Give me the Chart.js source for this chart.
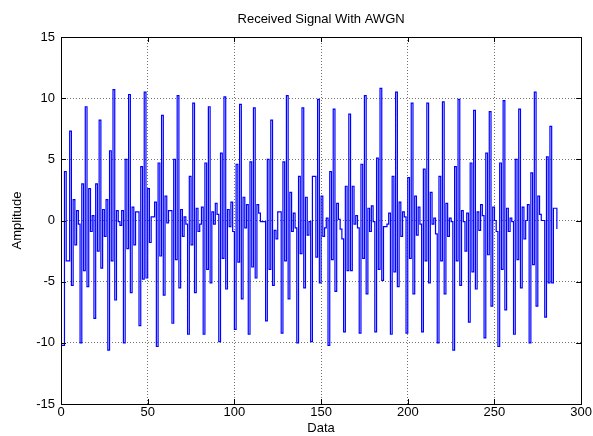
<!DOCTYPE html>
<html>
<head>
<meta charset="utf-8">
<title>Received Signal With AWGN</title>
<script src="https://cdn.jsdelivr.net/npm/chart.js@4.4.1/dist/chart.umd.min.js"></script>
<style>
  html, body { margin: 0; padding: 0; background: #fff; }
  #wrap { width: 593px; height: 436px; }
</style>
</head>
<body>
<div id="wrap"><canvas id="signalChart" width="593" height="436"></canvas></div>
<script>
// received samples, one per data index
const amplitude = [
  -10.2, -10.2, 4.0, -3.3, -3.3, 7.3, -5.3, 1.7, -2.0, 0.8, -0.3, -10.0, 3.0, -4.1, 9.3, -5.4, 2.6, -0.9, 0.4, -8.0,
  3.0, -2.5, 8.2, -3.9, 0.9, -1.3, 1.7, -10.6, 5.7, -3.3, 10.7, -6.5, 0.8, -0.1, -0.4, 0.8, -10.0,
  5.0, -2.3, 10.3, -5.9, 1.1, -2.0, 0.7, 0.7, -8.6, 4.4, -4.8, 10.5, -4.7, 2.6, -1.8, 0.3, 0.3, 1.5, -10.3, 4.7,
  -2.9, 8.6, -6.1, 2.0, -0.2, 0.8, 0.8, -8.4, 5.0, -3.2, 10.2, -5.5, 0.9, -1.3, 0.3, -0.3, -9.3, 3.6, -2.0,
  9.6,
  -5.9, 1.0, -0.9, -0.3, 1.1, -9.3, 4.7, -4.0, 9.3, -5.1, 0.7, -0.3, 1.4, 0.5, -9.9, 5.5, -3.1, 10.1, -5.6, 0.9,
  -0.5, 1.5, -0.9, -8.9, 4.6, -3.4, 9.5, -6.4, 1.9, -0.6, 1.3, -9.3, 4.8, -3.8, 9.2, -4.7, 1.3,
  0.6, -0.1, -0.1, -0.1, -8.2, 5.0, -4.0, 8.2, -5.3, -0.8, -1.5, 0.7, 0.7, -9.2, 4.8, -3.3, 10.2, -6.4, 2.3, -0.9,
  0.6, -0.6, -10.0, 3.6, -2.7, 9.2, -5.5, 1.9, -1.2, -0.1, -9.9, 3.6, 3.6, -3.0, 9.9, -5.1, 2.0, -1.3,
  -0.6, 0.2, -10.2, 4.0, -3.2, 9.1, -5.8, 1.4, 0.1, -0.7, -1.5, -9.1, 2.8, -4.1, 8.7, -4.1, 2.8, -0.3, 0.4, -0.6,
  -9.2, 4.6, -3.1, 10.2, -6.0, 1.0, -0.9, 1.2, -0.1, -9.1, 5.1, -4.0, 10.8, -4.9, -0.5, -0.5, -0.3, 0.6,
  -9.3, 3.6, -4.2, 10.5, -5.4, 1.5, -1.3, 0.7, 0.3, -9.2, 3.5, -3.1, 9.6, -6.0, 2.0, -1.2, 1.1, -0.3, -9.1, 4.2,
  -3.3, 9.6, -5.1, 2.3, -0.3, 0.2, -1.1, -10.0, 3.6, -3.3, 9.7, -6.0, 1.4, -1.3, 0.2, -0.1, -10.6, 4.4, -3.3,
  9.9, -5.3, 0.8, -0.1, -2.5, 0.6, -8.3, 4.7, -4.2, 9.0, -5.6, 0.7, -0.8, 1.3, 0.4, -9.6, 5.5, -2.8, 8.9, -7.0,
  1.1, 0.0, -0.9, -10.3, 4.7, -4.0, 9.8, -7.3, 1.0, -0.9, 0.2, -0.1, -9.3, 5.0, -3.2, 9.1,
  -5.5, 1.1, -1.5, 0.0, 1.3, -10.0, 3.9, -3.6, 10.5, -7.0, 2.0, 0.5, 0.0, 0.0, -7.9, 5.2, -5.1, 7.7, -5.1, 1.0,
  1.0, -0.7
];
const xTicks = [0, 50, 100, 150, 200, 250, 300];
const yTicks = [-15, -10, -5, 0, 5, 10, 15];

const points = amplitude.map((v, i) => ({ x: i, y: v }));
const font = { family: "'Liberation Sans', Arial, sans-serif", size: 13 };

// box round the axes plus short inward ticks, like matlab
const framePlugin = {
  id: 'frame',
  afterDatasetsDraw(chart) {
    const { ctx, chartArea: a, scales } = chart;
    ctx.save();
    ctx.strokeStyle = '#000';
    ctx.lineWidth = 1;
    ctx.beginPath();
    xTicks.forEach(t => {
      const px = Math.round(scales.x.getPixelForValue(t)) + 0.5;
      ctx.moveTo(px, a.bottom); ctx.lineTo(px, a.bottom - 5);
      ctx.moveTo(px, a.top); ctx.lineTo(px, a.top + 5);
    });
    yTicks.forEach(t => {
      const py = Math.round(scales.y.getPixelForValue(t)) + 0.5;
      ctx.moveTo(a.left, py); ctx.lineTo(a.left + 5, py);
      ctx.moveTo(a.right, py); ctx.lineTo(a.right - 5, py);
    });
    ctx.stroke();
    ctx.strokeRect(Math.round(a.left) + 0.5, Math.round(a.top) + 0.5,
      Math.round(a.right - a.left), Math.round(a.bottom - a.top));
    ctx.restore();
  }
};

new Chart(document.getElementById('signalChart'), {
  type: 'line',
  data: {
    datasets: [{
      data: points,
      borderColor: '#0000ff',
      borderWidth: 1.2,
      pointRadius: 0,
      stepped: 'before',
      fill: false
    }]
  },
  options: {
    responsive: false,
    animation: false,
    devicePixelRatio: 1,
    layout: { padding: { left: 0, right: 10, top: 0, bottom: 0 } },
    plugins: {
      legend: { display: false },
      tooltip: { enabled: false },
      title: {
        display: true,
        fullSize: false,
        text: 'Received Signal With AWGN',
        color: '#000',
        font: { ...font, weight: 'normal' },
        padding: { top: 12, bottom: 9.4 }
      }
    },
    scales: {
      x: {
        type: 'linear',
        min: 0, max: 300,
        afterBuildTicks: s => { s.ticks = xTicks.map(v => ({ value: v })); },
        afterFit: s => { s.height = 32; },
        grid: { color: 'rgba(0,0,0,0.55)', drawTicks: false },
        border: { display: false, dash: [1, 2] },
        ticks: { color: '#000', font, padding: 1, maxRotation: 0 },
        title: { display: true, text: 'Data', color: '#000', font, padding: { top: 0, bottom: 0 } }
      },
      y: {
        type: 'linear',
        min: -15, max: 15,
        afterBuildTicks: s => { s.ticks = yTicks.map(v => ({ value: v })); },
        afterFit: s => { s.width = 61; },
        grid: { color: 'rgba(0,0,0,0.55)', drawTicks: false },
        border: { display: false, dash: [1, 2] },
        ticks: { color: '#000', font, padding: 6 },
        title: { display: true, text: 'Amplitude', color: '#000', font, padding: { top: 10, bottom: 0 } }
      }
    }
  },
  plugins: [framePlugin]
});
</script>
</body>
</html>
